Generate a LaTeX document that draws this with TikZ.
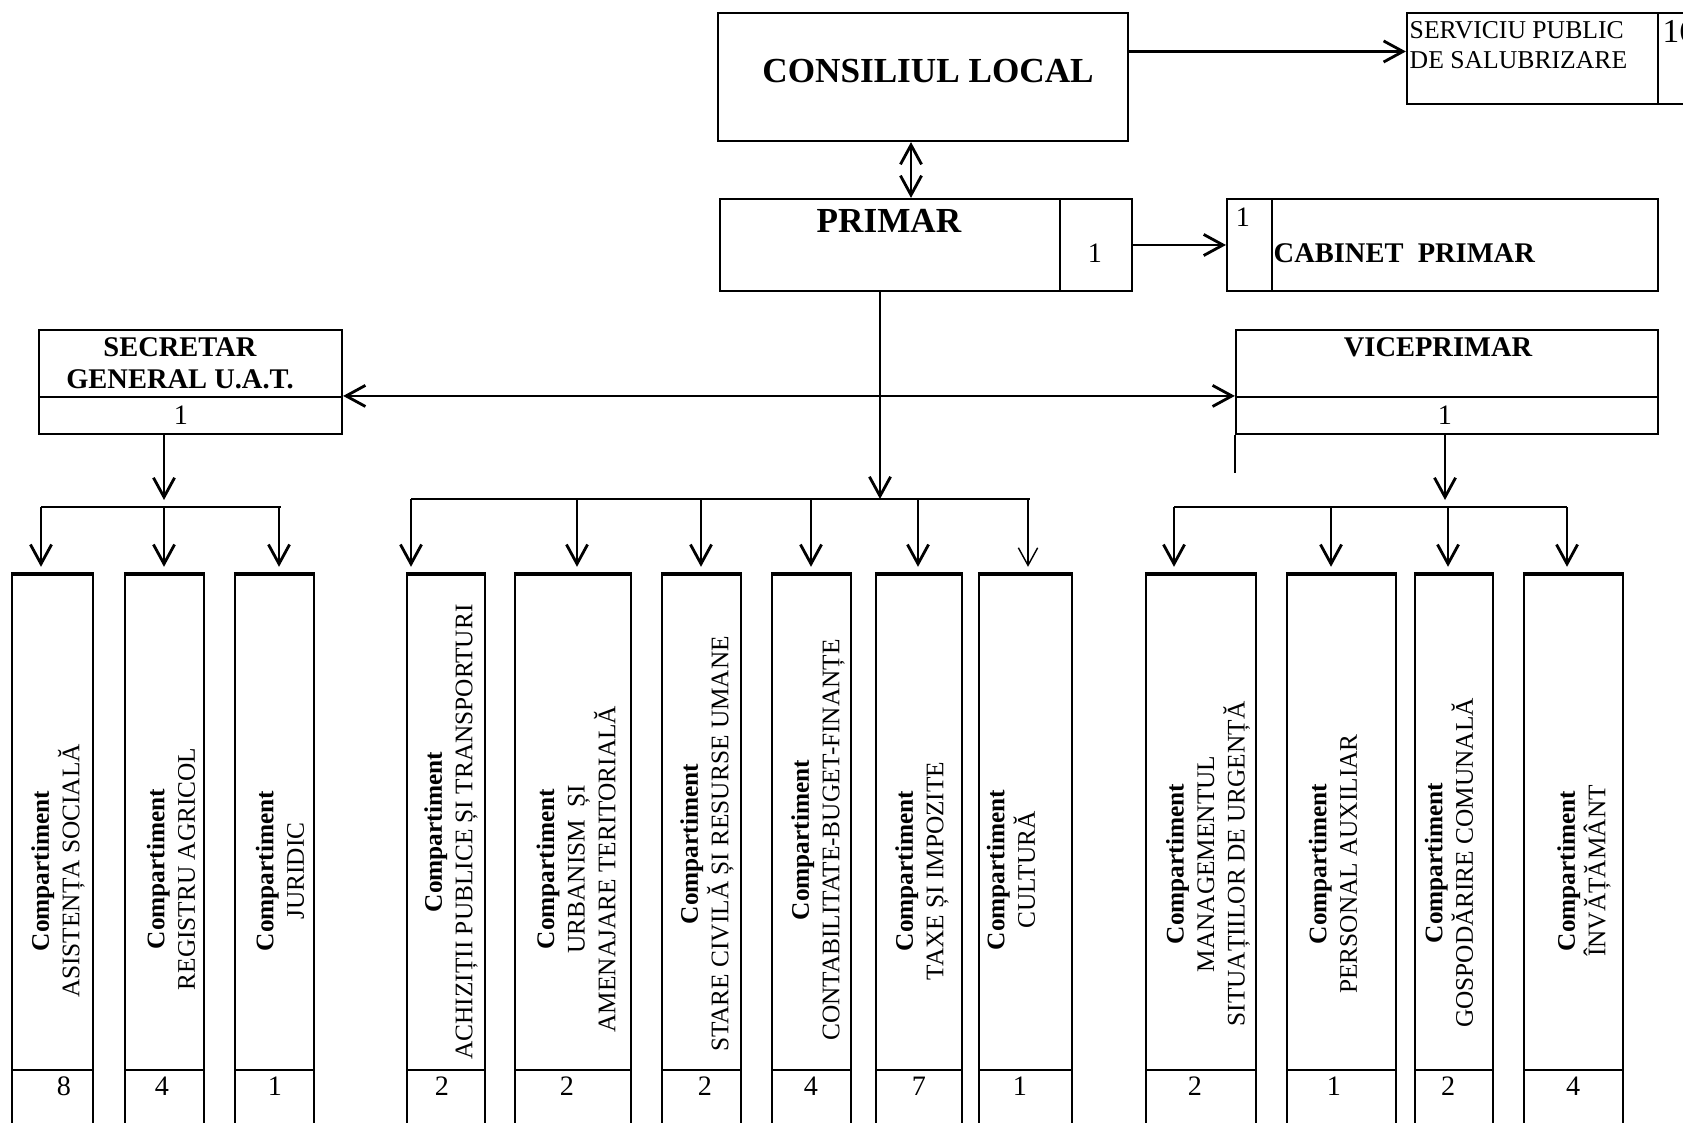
\documentclass[tikz,border=0pt]{standalone}
\usepackage{fontspec}
\setmainfont{Liberation Serif}
\usetikzlibrary{arrows.meta}

\begin{document}
\begin{tikzpicture}[x=0.01cm, y=-0.01cm,
		box/.style={draw, line width=0.6pt, inner sep=0pt},
		arr/.style={-{Straight Barb[length=5.5pt, width=6pt]}, line width=0.8pt},
		darr/.style={{Straight Barb[length=5.5pt, width=6pt]}-{Straight Barb[length=5.5pt, width=6pt]}, line width=0.8pt},
		bus/.style={line width=0.8pt},
		title/.style={font=\bfseries\fontsize{10}{12}\selectfont, inner sep=0pt},
		head/.style={font=\bfseries\fontsize{8.1}{9.2}\selectfont, align=center, inner sep=0pt},
		plain/.style={font=\fontsize{7.3}{8.6}\selectfont, align=left, inner sep=0pt},
		comp/.style={rotate=90, align=center, font=\fontsize{7.2}{8.7}\selectfont, inner sep=0pt},
		nr/.style={font=\fontsize{8}{9.6}\selectfont, inner sep=0pt}]
		
		\useasboundingbox (0,0) rectangle (1683,1122);
		\clip (0,0) rectangle (1683,1122);
		
		\node[box, minimum width=4.10cm, minimum height=1.28cm] (ConsiliulLocal) at (923,77) {};
		\node[title] (ConsiliulLocalTxt) at (928,71) {CONSILIUL LOCAL};
		
		\node[box, minimum width=2.51cm, minimum height=0.91cm] (Serviciu) at (1532.5,58.5) {};
		\node[box, minimum width=0.50cm, minimum height=0.91cm] (ServiciuNr) at (1683,58.5) {};
		\node[plain, anchor=north west] (ServiciuTxt) at (1409,21) {SERVICIU PUBLIC\\DE SALUBRIZARE};
		\node[anchor=north west, inner sep=0pt, font=\fontsize{9.5}{11}\selectfont] (ServiciuNrTxt) at (1662,20) {16};
		
		\node[box, minimum width=3.40cm, minimum height=0.92cm] (Primar) at (890,245) {};
		\node[box, minimum width=0.72cm, minimum height=0.92cm] (PrimarNr) at (1096,245) {};
		\node[title] (PrimarTxt) at (889,221) {PRIMAR};
		\node[nr] (PrimarNrTxt) at (1095,253) {1};
		
		\node[box, minimum width=0.45cm, minimum height=0.92cm] (CabinetNr) at (1249.5,245) {};
		\node[box, minimum width=3.86cm, minimum height=0.92cm] (Cabinet) at (1465,245) {};
		\node[nr] (CabinetNrTxt) at (1243,217) {1};
		\node[head, anchor=west] (CabinetTxt) at (1273,253) {CABINET\ \ PRIMAR};
		
		\node[box, minimum width=3.03cm, minimum height=0.67cm] (Secretar) at (190.5,363.5) {};
		\node[box, minimum width=3.03cm, minimum height=0.37cm] (SecretarNr) at (190.5,415.5) {};
		\node[head] (SecretarTxt) at (180,363) {SECRETAR\\GENERAL U.A.T.};
		\node[nr] (SecretarNrTxt) at (181,415) {1};
		
		\node[box, minimum width=4.22cm, minimum height=0.67cm] (Viceprimar) at (1447,363.5) {};
		\node[box, minimum width=4.22cm, minimum height=0.37cm] (ViceprimarNr) at (1447,415.5) {};
		\node[head] (ViceprimarTxt) at (1438,347) {VICEPRIMAR};
		\node[nr] (ViceprimarNrTxt) at (1445,415) {1};
		\draw[box] (ViceprimarNr.south west) -- ++(0,38);
		
		\coordinate (ClOut) at ([yshift=0.255cm]ConsiliulLocal.east);
		\coordinate (ClDown) at ([xshift=-0.12cm]ConsiliulLocal.south);
		\draw[arr]  (ClOut) -- (ClOut -| Serviciu.west);
		\draw[darr] (ClDown) -- (ClDown |- Primar.north);
		\draw[arr]  (PrimarNr.east) -- (CabinetNr.west);
		\draw[darr] (SecretarNr.north east) -- (ViceprimarNr.north west);
		
		\coordinate (BusLeft)  at (164,500);
		\coordinate (BusMid)   at (880,499);
		\coordinate (BusRight) at (1445,500);
		\draw[arr] (Primar.south -| BusMid) -- (BusMid);
		\draw[arr] (SecretarNr.south -| BusLeft) -- (BusLeft);
		\draw[arr] (ViceprimarNr.south -| BusRight) -- (BusRight);
		
		\foreach \n/\cx/\w/\tx/\ty/\nx/\nr/\txt in {
			AsistentaSociala/52.5/0.81cm/58/871/64/8/{ASISTENȚA SOCIALĂ},
			RegistruAgricol/164.5/0.79cm/171/869/162/4/{REGISTRU AGRICOL},
			Juridic/274.5/0.79cm/280/871/275/1/{JURIDIC},
			AchizitiiPublice/446/0.78cm/451/832/442/2/{ACHIZIȚII PUBLICE ȘI TRANSPORTURI},
			Urbanism/573/1.16cm/576/869/567/2/{URBANISM\ \ ȘI\\AMENAJARE TERITORIALĂ},
			StareCivila/701.5/0.79cm/707/844/705/2/{STARE CIVILĂ ȘI RESURSE UMANE},
			Contabilitate/811.5/0.79cm/818/840/811/4/{CONTABILITATE-BUGET-FINANȚE},
			TaxeImpozite/919/0.86cm/922/871/919/7/{TAXE ȘI IMPOZITE},
			Cultura/1025.5/0.93cm/1011/870/1020/1/{CULTURĂ},
			Managementul/1201/1.10cm/1208/864/1195/2/{MANAGEMENTUL\\SITUAȚIILOR DE URGENȚĂ},
			PersonalAuxiliar/1341.5/1.09cm/1333/864/1334/1/{PERSONAL AUXILIAR},
			Gospodarire/1454/0.78cm/1449/863/1448/2/{GOSPODĂRIRE COMUNALĂ},
			Invatamant/1573.5/0.99cm/1584/871/1573/4/{ÎNVĂȚĂMÂNT}}
		{
			\node[box, minimum width=\w, minimum height=4.95cm] (\n) at (\cx,822.5) {};
			\node[box, minimum width=\w, minimum height=0.75cm] (\n-nr) at (\cx,1107.5) {};
			\draw[line width=1pt] (\n.north west) -- (\n.north east);
			\node[comp] (\n-txt) at (\tx,\ty) {\textbf{Compartiment}\\\txt};
			\node[nr] (\n-nrtxt) at (\nx,1086) {\nr};
		}
		
		\foreach \n/\x/\y in {AsistentaSociala/41/507, RegistruAgricol/164/507, Juridic/279/507,
			AchizitiiPublice/411/499, Urbanism/577/499, StareCivila/701/499, Contabilitate/811/499, TaxeImpozite/918/499,
			Managementul/1174/507, PersonalAuxiliar/1331/507, Gospodarire/1448/507, Invatamant/1567/507}
		{
			\coordinate (Tap\n) at (\x,\y);
			\draw[arr, shorten >=0.07cm] (Tap\n) -- (Tap\n |- \n.north);
		}
		\coordinate (TapCultura) at (1028,499);
		\draw[-{Straight Barb[length=5pt, width=5.5pt]}, line width=0.4pt, shorten >=0.07cm] (TapCultura) -- (TapCultura |- Cultura.north);
		
		\draw[bus] (TapAsistentaSociala) -- ([xshift=0.02cm]TapJuridic);
		\draw[bus] (TapAchizitiiPublice) -- ([xshift=0.02cm]TapCultura);
		\draw[bus] (TapManagementul) -- (TapInvatamant);
	\end{tikzpicture}
\end{document}
